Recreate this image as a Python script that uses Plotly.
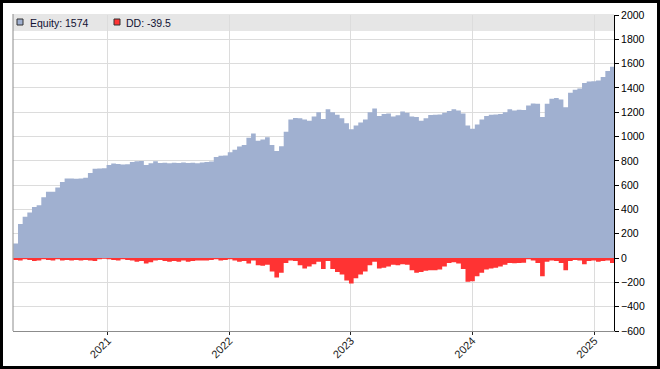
import pandas as pd
import plotly.graph_objects as go

# Two-week sampling dates (category axis for the series below)
dates = pd.date_range("2020-03-23", periods=130, freq="14D")

equity = [
    120, 280, 340, 375, 420, 435, 500, 545, 545, 580,
    625, 655, 655, 652, 655, 660, 700, 735, 738, 740,
    765, 778, 775, 770, 772, 790, 796, 798, 765, 780,
    796, 782, 785, 780, 784, 782, 786, 782, 784, 780,
    787, 790, 795, 832, 842, 845, 870, 892, 919, 930,
    990, 1025, 965, 975, 995, 930, 880, 920, 1040, 1140,
    1152, 1150, 1140, 1130, 1165, 1200, 1145, 1225, 1200, 1180,
    1150, 1110, 1060, 1090, 1115, 1140, 1200, 1230, 1170, 1185,
    1190, 1165, 1175, 1205, 1195, 1165, 1160, 1130, 1150, 1178,
    1180, 1182, 1195, 1210, 1225, 1215, 1190, 1090, 1065, 1100,
    1140, 1170, 1180, 1182, 1186, 1200, 1225, 1215, 1220, 1218,
    1255, 1272, 1270, 1160, 1270, 1310, 1318, 1305, 1240, 1360,
    1385, 1395, 1440, 1452, 1455, 1462, 1490, 1540, 1574, 1574,
]

drawdown = [
    -15, -20, -10, -15, -25, -20, -10, -15, -20, -10,
    -20, -15, -20, -15, -20, -15, -20, -25, -10, -5,
    -10, -15, -20, -10, -15, -20, -30, -25, -45, -35,
    -20, -15, -25, -30, -25, -30, -20, -30, -25, -20,
    -20, -20, -15, -10, -20, -15, -10, -20, -30, -25,
    -45, -20, -60, -63, -55, -110, -160, -120, -40, -20,
    -25, -60, -85, -70, -50, -30, -90, -25, -90, -115,
    -135, -185, -210, -165, -135, -110, -60, -30, -85, -80,
    -70, -55, -60, -50, -55, -100, -120, -115, -105, -100,
    -100, -95, -70, -40, -35, -45, -90, -195, -190, -150,
    -120, -95, -85, -80, -70, -55, -40, -42, -40, -38,
    -10, -20, -40, -150, -30, -20, -25, -40, -100, -25,
    -15, -20, -50, -25, -20, -30, -25, -20, -39.5, -39.5,
]

year_ticks = ["2021-01-01", "2022-01-01", "2023-01-01", "2024-01-01", "2025-01-01"]
year_labels = ["2021", "2022", "2023", "2024", "2025"]
y_ticks = list(range(-600, 2001, 200))

legend_equity = "Equity: 1574"
legend_dd = "DD: -39.5"

EQ_COLOR = "#a0b0d0"
DD_COLOR = "#ff3333"
FONT = "Liberation Sans, Arial, sans-serif"

fig = go.Figure()
fig.add_trace(go.Scatter(
    x=dates, y=equity, mode="lines", line=dict(width=0, shape="hv", color=EQ_COLOR),
    fill="tozeroy", fillcolor=EQ_COLOR, hoverinfo="skip", showlegend=False,
))
fig.add_trace(go.Scatter(
    x=dates, y=drawdown, mode="lines", line=dict(width=0, shape="hv", color=DD_COLOR),
    fill="tozeroy", fillcolor=DD_COLOR, hoverinfo="skip", showlegend=False,
))

W, H = 660, 369
ml, mr, mt, mb = 13, 46, 15, 38
pw, ph = W - ml - mr, H - mt - mb

fig.update_layout(
    width=W, height=H,
    margin=dict(l=ml, r=mr, t=mt, b=mb, pad=0, autoexpand=False),
    paper_bgcolor="white", plot_bgcolor="white",
    font=dict(family=FONT, size=10, color="#000000"),
    showlegend=False,
    xaxis=dict(
        type="date", range=["2020-03-22", "2025-03-01"], automargin=False,
        tickmode="array", tickvals=year_ticks, ticktext=year_labels,
        tickangle=-45, ticks="outside", ticklen=3, tickcolor="#222222",
        ticklabelstandoff=-5,
        showgrid=True, gridcolor="#dcdcdc", gridwidth=1,
        showline=True, linecolor="#8c8c8c", linewidth=1,
        zeroline=False, tickfont=dict(size=11, color="#1a1a1a"),
    ),
    yaxis=dict(
        side="right", range=[-600, 2000], automargin=False,
        tickmode="array", tickvals=y_ticks,
        ticks="outside", ticklen=4, tickcolor="#000000",
        showgrid=True, gridcolor="#dcdcdc", gridwidth=1,
        showline=True, linecolor="#000000", linewidth=1,
        zeroline=False, tickfont=dict(size=10.5, color="#000000"),
    ),
)

shapes = []
# legend band
shapes.append(dict(type="rect", xref="paper", yref="paper",
                   x0=0, x1=1, y0=1 - 16 / ph, y1=1 + 1 / ph,
                   fillcolor="#e6e6e6", line=dict(width=0), layer="below"))
# left frame line
shapes.append(dict(type="line", xref="paper", yref="paper",
                   x0=0, x1=0, y0=0, y1=1 + 1 / ph,
                   line=dict(color="#8c8c8c", width=1), layer="above"))
# legend squares
def sq(px, py, size, color):
    return dict(type="rect", xref="paper", yref="paper",
                x0=(px - ml) / pw, x1=(px + size - ml) / pw,
                y0=1 - (py + size - mt) / ph, y1=1 - (py - mt) / ph,
                fillcolor=color, line=dict(color="#333333", width=1), layer="above")
shapes.append(sq(17, 19, 6, EQ_COLOR))
shapes.append(sq(114, 19, 6, DD_COLOR))
# outer black border
shapes.append(dict(type="rect", xref="paper", yref="paper",
                   x0=(-ml + 1.5) / pw, x1=1 + (mr - 1.5) / pw,
                   y0=(-mb + 1.5) / ph, y1=1 + (mt - 1.5) / ph,
                   line=dict(color="#000000", width=3), fillcolor="rgba(0,0,0,0)",
                   layer="above"))
fig.update_layout(shapes=shapes)

fig.add_annotation(xref="paper", yref="paper", x=(28 - ml) / pw, y=1 - (22.5 - mt) / ph,
                   text=legend_equity, showarrow=False, xanchor="left", yanchor="middle",
                   font=dict(family=FONT, size=10.5, color="#111133"))
fig.add_annotation(xref="paper", yref="paper", x=(124 - ml) / pw, y=1 - (22.5 - mt) / ph,
                   text=legend_dd, showarrow=False, xanchor="left", yanchor="middle",
                   font=dict(family=FONT, size=10.5, color="#111133"))

fig.write_html(
    "out.html",
    config={"displayModeBar": False, "staticPlot": True},
    post_script="document.body.style.margin='0';document.body.style.overflow='hidden';",
)
